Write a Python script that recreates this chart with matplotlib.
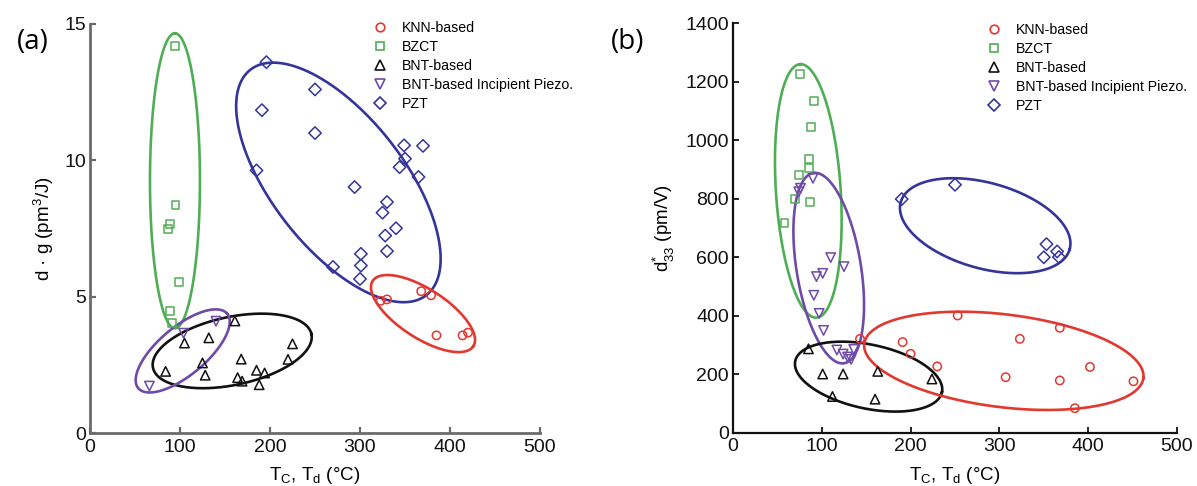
import numpy as np
import matplotlib
matplotlib.use("Agg")
import matplotlib.pyplot as plt
from matplotlib.lines import Line2D

plt.rcParams['font.family'] = ['Liberation Sans', 'DejaVu Sans']

# ---------------- data: panel (a)  d·g vs Tc/Td ----------------
knn_a_x = [323, 330, 368, 379, 385, 414, 420]
knn_a_y = [4.85, 4.90, 5.20, 5.05, 3.58, 3.58, 3.68]

bzct_a_x = [94, 95, 89, 87, 99, 89, 91]
bzct_a_y = [14.2, 8.35, 7.65, 7.48, 5.54, 4.48, 4.02]

bnt_a_x = [84, 105, 132, 125, 128, 161, 168, 164, 169, 185, 194, 188, 225, 220]
bnt_a_y = [2.26, 3.30, 3.49, 2.57, 2.12, 4.11, 2.71, 2.03, 1.90, 2.30, 2.20, 1.77, 3.27, 2.70]

inc_a_x = [140, 66, 104]
inc_a_y = [4.10, 1.72, 3.66]

pzt_a_x = [196, 250, 191, 250, 185, 349, 370, 350, 344, 365, 294, 330, 325, 340, 328, 330,
           301, 301, 270, 300]
pzt_a_y = [13.6, 12.6, 11.84, 11.0, 9.63, 10.55, 10.53, 10.06, 9.75, 9.39, 9.02, 8.47, 8.08,
           7.51, 7.24, 6.67, 6.57, 6.14, 6.09, 5.65]

# ---------------- data: panel (b)  d33* vs Tc/Td ----------------
knn_b_x = [143, 191, 200, 230, 253, 307, 323, 368, 368, 402, 385, 451]
knn_b_y = [320, 309, 269, 226, 400, 189, 320, 358, 178, 224, 83, 175]

bzct_b_x = [75, 91, 88, 86, 86, 74, 70, 87, 58]
bzct_b_y = [1226, 1134, 1043, 935, 903, 880, 797, 787, 717]

bnt_b_x = [85, 101, 124, 112, 163, 160, 224]
bnt_b_y = [286, 200, 200, 123, 209, 114, 183]

inc_b_x = [90, 76, 74, 110, 125, 94, 101, 91, 97, 102, 117, 124, 129, 133, 136]
inc_b_y = [869, 835, 823, 598, 567, 533, 544, 469, 407, 349, 282, 268, 258, 250, 284]

pzt_b_x = [190, 250, 353, 365, 350, 367]
pzt_b_y = [798, 847, 644, 619, 599, 600]

series_names = ["KNN-based", "BZCT", "BNT-based", "BNT-based Incipient Piezo.", "PZT"]

x_ticks = [0, 100, 200, 300, 400, 500]
a_y_ticks = [0, 5, 10, 15]
b_y_ticks = [0, 200, 400, 600, 800, 1000, 1200, 1400]

# ---------------- styles ----------------
RED = '#e2382f'
GREEN = '#4fae55'
BLACK = '#111111'
PURPLE = '#6f4aa8'
BLUE = '#34349a'
marker_styles = [
    dict(marker='o', color=RED, s=36, ms=6.2),
    dict(marker='s', color=GREEN, s=32, ms=5.8),
    dict(marker='^', color=BLACK, s=46, ms=6.6),
    dict(marker='v', color=PURPLE, s=46, ms=6.6),
    dict(marker='D', color=BLUE, s=40, ms=6.0),
]

W, H = 1197, 486
fig = plt.figure(figsize=(W / 100, H / 100), dpi=100)

# axes placement in pixels (left, right, bottom(y=0 line), top)
def add_axes(l, r, b, t):
    return fig.add_axes([l / W, 1 - b / H, (r - l) / W, (b - t) / H])

ax_a = add_axes(90, 540, 433, 24)
ax_b = add_axes(733, 1177, 432.5, 23)

ax_a.set_xlim(0, 500); ax_a.set_ylim(0, 15)
ax_b.set_xlim(0, 500); ax_b.set_ylim(0, 1400)

TICK_FS = 14
LABEL_FS = 13.5


def style_axes(ax, spine_color, lw):
    for s in ['top', 'right']:
        ax.spines[s].set_visible(False)
    for s in ['left', 'bottom']:
        ax.spines[s].set_color(spine_color)
        ax.spines[s].set_linewidth(lw)
    ax.tick_params(direction='in', length=4, width=lw * 0.8, color=spine_color,
                   labelsize=TICK_FS, labelcolor='#111111')
    ax.tick_params(axis='x', pad=4)
    ax.tick_params(axis='y', pad=3)
    ax.set_facecolor('none')


style_axes(ax_a, '#6b6b6b', 2.0)
style_axes(ax_b, '#111111', 1.6)
ax_a.set_xticks(x_ticks); ax_a.set_yticks(a_y_ticks)
ax_b.set_xticks(x_ticks); ax_b.set_yticks(b_y_ticks)

data_a = [(knn_a_x, knn_a_y), (bzct_a_x, bzct_a_y), (bnt_a_x, bnt_a_y),
          (inc_a_x, inc_a_y), (pzt_a_x, pzt_a_y)]
data_b = [(knn_b_x, knn_b_y), (bzct_b_x, bzct_b_y), (bnt_b_x, bnt_b_y),
          (inc_b_x, inc_b_y), (pzt_b_x, pzt_b_y)]

for ax, data in [(ax_a, data_a), (ax_b, data_b)]:
    for (xs, ys), st, name in zip(data, marker_styles, series_names):
        ax.scatter(xs, ys, marker=st['marker'], s=st['s'], facecolors='none',
                   edgecolors=st['color'], linewidths=1.1, label=name, zorder=3,
                   clip_on=False)


def draw_ellipse(ax, cx, cy, a_px, b_px, ang_deg, color):
    t = np.linspace(0, 2 * np.pi, 500)
    cxp, cyp = ax.transData.transform((cx, cy))
    th = np.radians(ang_deg)
    xs = cxp + a_px * np.cos(t) * np.cos(th) - b_px * np.sin(t) * np.sin(th)
    ys = cyp + a_px * np.cos(t) * np.sin(th) + b_px * np.sin(t) * np.cos(th)
    pts = ax.transData.inverted().transform(np.column_stack([xs, ys]))
    ax.plot(pts[:, 0], pts[:, 1], color=color, lw=1.9, zorder=2, clip_on=False)


# cluster outlines: center (data), semi-axes (px), angle (deg)
ellipses_a = [
    (94.4, 9.25, 147.5, 25, 90, GREEN),
    (276, 9.19, 143, 66, -52, BLUE),
    (370, 4.38, 60, 24.4, -33, RED),
    (158, 3.01, 81, 34, 12, BLACK),
    (103, 3.01, 58, 24, 40, PURPLE),
]
ellipses_b = [
    (84.8, 826, 127, 32.4, 93.7, GREEN),
    (107.8, 562, 96.4, 32.2, 99.2, PURPLE),
    (152.7, 191, 75, 32, -12, BLACK),
    (305, 245, 140.6, 46.4, -7, RED),
    (284, 707, 87.7, 42.8, -15.6, BLUE),
]
for e in ellipses_a:
    draw_ellipse(ax_a, *e)
for e in ellipses_b:
    draw_ellipse(ax_b, *e)

# labels
xlab = 'T$_\\mathregular{C}$, T$_\\mathregular{d}$ (°C)'
ax_a.set_xlabel(xlab, fontsize=LABEL_FS, labelpad=7)
ax_b.set_xlabel(xlab, fontsize=LABEL_FS, labelpad=7)
ax_a.set_ylabel('d · g (pm$^\\mathregular{3}$/J)', fontsize=LABEL_FS, labelpad=6)
ax_b.set_ylabel('d$^\\mathregular{*}_\\mathregular{33}$ (pm/V)', fontsize=LABEL_FS, labelpad=6)

fig.text(33 / W, 1 - 42 / H, '(a)', fontsize=20, ha='center', va='center',
         family=['Open Sans', 'DejaVu Sans'])
fig.text(628 / W, 1 - 42 / H, '(b)', fontsize=20, ha='center', va='center',
         family=['Open Sans', 'DejaVu Sans'])

# legends
LEG_FS = 10.2
for ax, lx, ty in [(ax_a, 371, 20.5), (ax_b, 985, 22.5)]:
    handles = [Line2D([], [], ls='none', marker=st['marker'], markersize=st['ms'],
                      markerfacecolor='none', markeredgecolor=st['color'], markeredgewidth=1.2)
               for st in marker_styles]
    ax.legend(handles, series_names, loc='upper left', bbox_to_anchor=(lx / W, 1 - ty / H),
              bbox_transform=fig.transFigure, frameon=False, fontsize=LEG_FS,
              handlelength=1.25, handletextpad=0.95, labelspacing=0.36,
              borderpad=0, borderaxespad=0)

fig.savefig('out.png', dpi=100, facecolor='white')
